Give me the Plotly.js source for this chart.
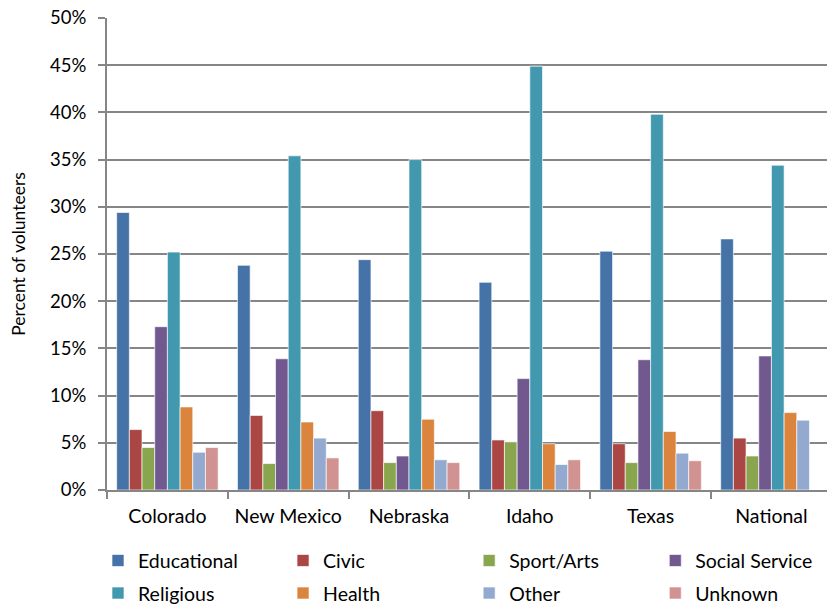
<!DOCTYPE html>
<html>
<head>
<meta charset="utf-8">
<script src="https://cdn.plot.ly/plotly-3.0.1.min.js"></script>
<style>html,body{margin:0;padding:0;background:#fff;}#chart{width:827px;height:606px;}</style>
</head>
<body>
<div id="chart"></div>
<script>
const categories = ["Colorado", "New Mexico", "Nebraska", "Idaho", "Texas", "National"];
const educational   = [29.4, 23.8, 24.4, 22.0, 25.3, 26.6];
const civic         = [6.4, 7.9, 8.4, 5.3, 4.9, 5.5];
const sportArts     = [4.5, 2.8, 2.9, 5.1, 2.9, 3.6];
const socialService = [17.3, 13.9, 3.6, 11.8, 13.8, 14.2];
const religious     = [25.2, 35.4, 35.0, 44.9, 39.8, 34.4];
const health        = [8.8, 7.2, 7.5, 4.9, 6.2, 8.2];
const other         = [4.0, 5.5, 3.2, 2.7, 3.9, 7.4];
const unknown       = [4.5, 3.4, 2.9, 3.2, 3.1, 0];
const yTicks = [0, 5, 10, 15, 20, 25, 30, 35, 40, 45, 50];

const seriesNames = ["Educational", "Civic", "Sport/Arts", "Social Service",
                     "Religious", "Health", "Other", "Unknown"];
const seriesValues = [educational, civic, sportArts, socialService,
                      religious, health, other, unknown];
const seriesColors = ["#4572A7", "#AA4643", "#89A54E", "#71588F",
                      "#4198AF", "#DB843D", "#93A9CF", "#D19392"];

const legendIds = ["legend", "legend2", "legend3", "legend4",
                   "legend5", "legend6", "legend7", "legend8"];

const traces = seriesNames.map((name, i) => ({
  type: "bar",
  name: name,
  x: categories,
  y: seriesValues[i],
  legend: legendIds[i],
  marker: {color: seriesColors[i], line: {color: "rgba(255,255,255,0.8)", width: 0.8}},
  hoverinfo: "x+y+name"
}));

const FONT = "Lato, 'Open Sans', sans-serif";
const layout = {
  width: 827, height: 606,
  margin: {l: 107, r: 0, t: 18, b: 116, autoexpand: false},
  paper_bgcolor: "#fff", plot_bgcolor: "#fff",
  barmode: "group",
  bargap: 0.16, bargroupgap: 0,
  font: {family: FONT, size: 19, color: "#000"},
  xaxis: {
    range: [-0.5, 5.46],
    showline: true, linecolor: "#868686", linewidth: 2,
    ticks: "outside", tickson: "boundaries", ticklen: 7, tickwidth: 2, tickcolor: "#868686",
    tickfont: {family: FONT, size: 19.5, color: "#000"},
    ticklabelstandoff: 8,
    showgrid: false, fixedrange: true
  },
  yaxis: {
    range: [0, 50],
    tickvals: yTicks,
    ticktext: yTicks.map(v => v + "%"),
    showline: true, linecolor: "#868686", linewidth: 2,
    ticks: "outside", ticklen: 7, tickwidth: 2, tickcolor: "#868686",
    ticklabelstandoff: 8,
    showgrid: true, gridcolor: "#868686", gridwidth: 2,
    zeroline: false,
    tickfont: {family: FONT, size: 18.5, color: "#000"},
    title: {text: "Percent of volunteers", font: {family: FONT, size: 17.5, color: "#000"}, standoff: 20},
    fixedrange: true
  },
  showlegend: true
};

// legend grid: 4 columns x 2 rows
const colX = [-0.0125, 0.2445, 0.503, 0.7615];
const rowY = [-0.150, -0.219];
legendIds.forEach((id, i) => {
  layout[id] = {
    orientation: "v",
    x: colX[i % 4], xanchor: "left",
    y: rowY[Math.floor(i / 4)], yanchor: "middle",
    font: {family: FONT, size: 19.5, color: "#000"},
    itemwidth: 30, bgcolor: "rgba(0,0,0,0)", borderwidth: 0
  };
});

Plotly.newPlot("chart", traces, layout, {displayModeBar: false, staticPlot: true});
</script>
</body>
</html>
